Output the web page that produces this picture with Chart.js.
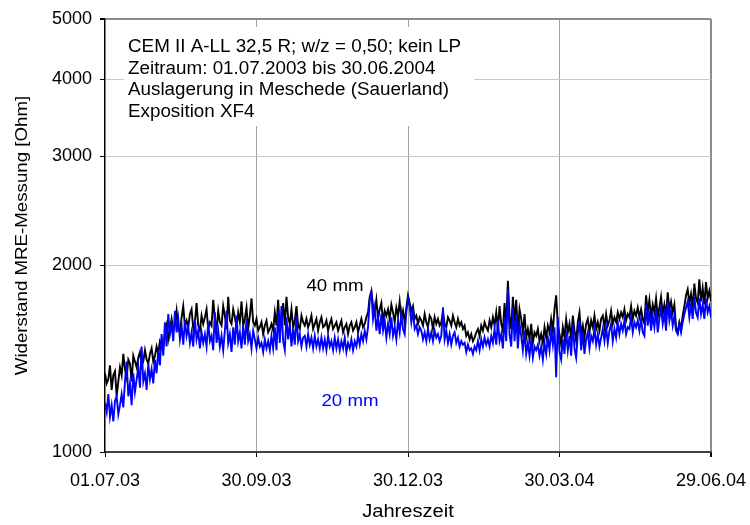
<!DOCTYPE html>
<html><head><meta charset="utf-8">
<script src="https://cdn.jsdelivr.net/npm/chart.js@4/dist/chart.umd.min.js"></script>
<style>html,body{margin:0;padding:0;background:#fff}</style>
</head><body>
<canvas id="c" width="750" height="525"></canvas>
<script>
// x positions are days since 01.07.2003
const dayTicks = [0, 91, 182, 273, 364];
const tickLabels = ['01.07.03', '30.09.03', '30.12.03', '30.03.04', '29.06.04'];
const yTicks = [1000, 2000, 3000, 4000, 5000];
const infoLines = [
  'CEM II A-LL 32,5 R; w/z = 0,50; kein LP',
  'Zeitraum: 01.07.2003 bis 30.06.2004',
  'Auslagerung in Meschede (Sauerland)',
  'Exposition XF4'
];
const seriesNames = ['20 mm', '40 mm'];
const xTitle = 'Jahreszeit';
const yTitle = 'Widerstand MRE-Messung [Ohm]';

// daily readings, 40 mm depth (black)
const r40mm = [
1340,1290,1310,1380,1260,1330,1350,1230,1300,1370,
1330,1440,1360,1320,1410,1390,1300,1430,1400,1370,
1420,1450,1380,1400,1460,1410,1390,1440,1470,1400,
1430,1480,1440,1510,1490,1470,1550,1600,1520,1580,
1640,1570,1610,1690,1580,1560,1650,1720,1600,1630,
1590,1670,1700,1580,1620,1740,1600,1570,1660,1610,
1650,1700,1580,1620,1600,1760,1640,1570,1690,1620,
1600,1720,1660,1580,1780,1630,1610,1700,1650,1590,
1680,1620,1750,1600,1640,1710,1580,1660,1770,1620,
1600,1640,1570,1590,1620,1550,1600,1630,1560,1580,
1610,1570,1680,1600,1760,1580,1620,1740,1600,1780,
1650,1610,1700,1590,1630,1720,1600,1580,1660,1620,
1600,1640,1590,1620,1660,1580,1610,1640,1570,1620,
1650,1590,1600,1630,1570,1610,1640,1580,1600,1620,
1570,1600,1630,1560,1590,1610,1550,1600,1620,1570,
1590,1620,1560,1600,1640,1590,1610,1650,1680,1780,
1820,1720,1680,1760,1640,1700,1740,1620,1690,1660,
1700,1640,1730,1680,1620,1710,1660,1750,1640,1690,
1620,1710,1790,1740,1690,1720,1640,1660,1610,1650,
1630,1600,1670,1620,1590,1660,1640,1580,1650,1610,
1640,1600,1620,1680,1610,1590,1650,1630,1600,1660,
1620,1590,1640,1600,1620,1580,1600,1540,1560,1520,
1550,1510,1530,1560,1580,1540,1600,1570,1620,1590,
1570,1630,1590,1650,1600,1680,1580,1720,1610,1570,
1740,1600,1890,1660,1580,1780,1620,1760,1560,1700,
1640,1560,1670,1530,1580,1520,1610,1500,1560,1540,
1580,1510,1550,1500,1590,1530,1600,1560,1640,1570,
1700,1790,1600,1550,1490,1590,1530,1640,1560,1610,
1520,1660,1570,1510,1620,1680,1550,1600,1530,1610,
1640,1560,1630,1590,1660,1580,1620,1570,1640,1660,
1590,1670,1600,1630,1690,1610,1650,1620,1680,1640,
1680,1650,1700,1630,1670,1650,1720,1640,1690,1660,
1710,1650,1700,1640,1610,1790,1680,1760,1650,1730,
1680,1770,1650,1710,1780,1670,1730,1660,1810,1700,
1750,1680,1730,1590,1560,1620,1580,1660,1720,1790,
1830,1740,1800,1710,1870,1770,1740,1900,1750,1840,
1730,1880,1770,1820,1750
];

// daily readings, 20 mm depth (blue)
const r20mm = [
1200,1160,1240,1140,1190,1120,1210,1230,1150,1190,
1240,1180,1300,1400,1230,1290,1190,1340,1250,1310,
1370,1270,1480,1300,1340,1260,1390,1310,1360,1290,
1410,1340,1460,1380,1550,1430,1620,1480,1670,1550,
1610,1510,1690,1560,1640,1520,1600,1490,1630,1540,
1590,1500,1560,1480,1640,1520,1570,1470,1560,1500,
1550,1480,1620,1510,1540,1460,1680,1500,1570,1480,
1540,1460,1570,1690,1500,1550,1450,1590,1490,1660,
1510,1560,1470,1600,1490,1640,1510,1550,1470,1570,
1520,1470,1530,1480,1500,1450,1520,1470,1510,1460,
1540,1470,1590,1460,1680,1500,1720,1510,1460,1650,
1520,1610,1480,1580,1490,1660,1510,1550,1480,1530,
1540,1480,1550,1490,1530,1470,1540,1480,1520,1470,
1530,1470,1520,1460,1540,1480,1510,1460,1530,1470,
1520,1460,1510,1470,1530,1450,1500,1470,1520,1460,
1510,1480,1540,1490,1550,1510,1570,1520,1590,1760,
1810,1640,1710,1570,1650,1550,1670,1570,1630,1530,
1610,1550,1650,1540,1590,1520,1630,1560,1670,1580,
1550,1680,1770,1720,1620,1690,1580,1600,1550,1590,
1570,1520,1560,1510,1580,1520,1560,1510,1570,1530,
1550,1510,1540,1710,1520,1570,1500,1550,1490,1540,
1560,1500,1530,1480,1510,1490,1500,1450,1490,1460,
1470,1440,1480,1460,1510,1460,1520,1480,1530,1490,
1520,1480,1540,1500,1580,1490,1630,1510,1550,1470,
1650,1510,1830,1550,1480,1710,1510,1670,1470,1610,
1540,1460,1570,1440,1500,1430,1510,1420,1480,1460,
1490,1430,1480,1410,1500,1440,1530,1460,1570,1490,
1590,1320,1650,1450,1410,1520,1440,1570,1460,1540,
1430,1610,1470,1420,1550,1630,1460,1560,1440,1520,
1560,1470,1540,1510,1580,1490,1550,1480,1530,1580,
1510,1590,1500,1570,1610,1510,1580,1530,1620,1550,
1610,1570,1630,1550,1590,1580,1650,1560,1620,1590,
1630,1570,1640,1560,1540,1730,1600,1690,1570,1660,
1590,1700,1560,1640,1710,1610,1670,1570,1750,1630,
1690,1600,1660,1570,1550,1610,1560,1620,1670,1710,
1750,1650,1730,1640,1780,1680,1650,1770,1670,1730,
1640,1770,1680,1720,1650
];

const FONT = '"Liberation Sans", Arial, sans-serif';

function wideText(ctx, text, x, y, sx) {
  ctx.save();
  ctx.translate(x, y);
  ctx.scale(sx, 1);
  ctx.fillText(text, 0, 0);
  ctx.restore();
}

const overlay = {
  id: 'overlay',
  beforeDatasetsDraw(chart) {
    const ctx = chart.ctx;
    ctx.save();
    ctx.fillStyle = '#fff';
    ctx.fillRect(124, 27, 350, 99);
    ctx.fillStyle = '#000';
    ctx.font = '18px ' + FONT;
    ctx.textBaseline = 'alphabetic';
    ctx.textAlign = 'left';
    infoLines.forEach((t, i) => wideText(ctx, t, 128, 52 + i * 21.7, 1.045));
    ctx.restore();
  },
  afterDraw(chart) {
    const ctx = chart.ctx;
    const xs = chart.scales.x, ys = chart.scales.y;
    ctx.save();
    ctx.textAlign = 'center';
    ctx.textBaseline = 'middle';
    ctx.font = '17px ' + FONT;
    ctx.fillStyle = '#000';
    wideText(ctx, seriesNames[1], 335, 286, 1.1);
    ctx.fillStyle = '#0000ff';
    wideText(ctx, seriesNames[0], 350, 401, 1.1);
    ctx.fillStyle = '#000';
    ctx.font = '17.5px ' + FONT;
    wideText(ctx, xTitle, (xs.left + xs.right) / 2, 512, 1.15);
    ctx.font = '17px ' + FONT;
    ctx.translate(22, (ys.top + ys.bottom) / 2);
    ctx.rotate(-Math.PI / 2);
    wideText(ctx, yTitle, 0, 0, 1.1);
    ctx.restore();
  }
};

new Chart(document.getElementById('c'), {
  type: 'line',
  data: {
    datasets: [
      { label: seriesNames[0], data: r20mm.map((v, i) => ({ x: i, y: v })),
        borderColor: '#0000ff', borderWidth: 1.9, pointRadius: 0, tension: 0 },
      { label: seriesNames[1], data: r40mm.map((v, i) => ({ x: i, y: v })),
        borderColor: '#000000', borderWidth: 1.9, pointRadius: 0, tension: 0 }
    ]
  },
  options: {
    responsive: false,
    animation: false,
    devicePixelRatio: 1,
    layout: { padding: { top: 19, right: 39, left: 0, bottom: 0 } },
    plugins: { legend: { display: false }, tooltip: { enabled: false } },
    scales: {
      x: {
        type: 'linear', min: 0, max: 364,
        afterBuildTicks: s => { s.ticks = dayTicks.map(v => ({ value: v })); },
        afterFit: s => { s.height = 73; s.paddingLeft = 0; s.paddingRight = 0; },
        ticks: {
          autoSkip: false, maxRotation: 0, padding: 13,
          font: { family: FONT, size: 18 }, color: '#000',
          callback: v => tickLabels[dayTicks.indexOf(v)]
        },
        grid: {
          color: c => c.tick && c.tick.value === 364 ? '#8c8c8c' : (c.tick && c.tick.value === 0 ? 'rgba(0,0,0,0)' : '#a0a0a0'),
          lineWidth: c => c.tick && c.tick.value === 364 ? 2 : 1,
          tickColor: '#000', tickLength: 5
        },
        border: { color: '#404040', width: 2 }
      },
      y: {
        type: 'logarithmic', min: 1000, max: 5000,
        afterBuildTicks: s => { s.ticks = yTicks.map(v => ({ value: v })); },
        afterFit: s => { s.width = 105; s.paddingTop = 0; s.paddingBottom = 0; },
        ticks: {
          padding: 8, font: { family: FONT, size: 18 }, color: '#000',
          callback: v => String(v)
        },
        grid: {
          color: c => c.tick && c.tick.value === 5000 ? '#8c8c8c' : (c.tick && c.tick.value === 1000 ? 'rgba(0,0,0,0)' : '#c8c8c8'),
          lineWidth: c => c.tick && c.tick.value === 5000 ? 2 : 1,
          tickColor: '#000', tickLength: 5
        },
        border: { color: '#000', width: 1.5 }
      }
    }
  },
  plugins: [overlay]
});
</script>
</body></html>
